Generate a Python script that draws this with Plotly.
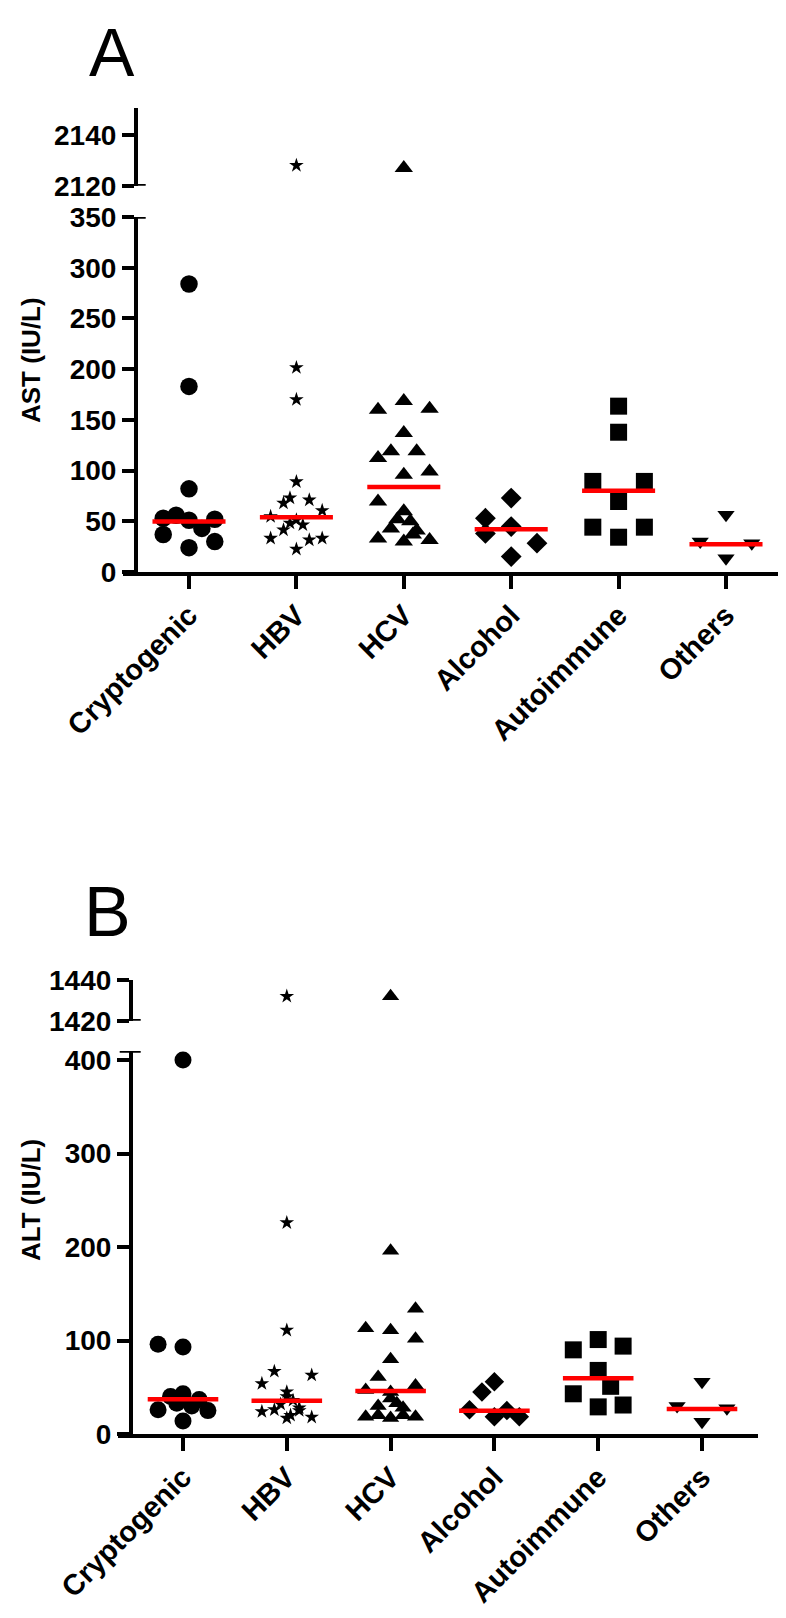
import plotly.graph_objects as go

# page body has an 8px margin; figure is sized/placed so page pixels match the reference
OFF = 8
FW, FH = 776, 1602

categories = ["Cryptogenic", "HBV", "HCV", "Alcohol", "Autoimmune", "Others"]
symbols = ["circle", "star", "triangle-up", "diamond", "square", "triangle-down"]

# ---- Panel A: AST (IU/L) ----
ast_cryptogenic = [284, 183, 82, 53, 56, 51, 43, 52, 37, 24, 30]
ast_cryptogenic_slot = [0, 0, 0, -2, -1, 0, 1, 2, -2, 0, 2]
ast_hbv = [2128, 201.5, 170, 89, 73, 68, 71, 60.6, 54.7, 51.4, 41.5, 48.2, 46.5, 33.3, 31.6, 33.3, 22.5]
ast_hbv_slot = [0, 0, 0, 0, -0.5, -1, 1, 2, -2, 0, -1, -0.5, 0.5, -2, 1, 2, 0]
ast_hcv = [2127, 168.5, 161, 160, 137, 119, 119, 112.5, 99, 96, 69.5, 60, 52, 50, 43, 41, 37, 33, 30, 31.6]
ast_hcv_slot = [0, 0, 2, -2, 0, -1, 1, -2, 2, 0, -2, 0, -0.5, 0.5, -1, 1, 0.7, -2, 0, 2]
ast_alcohol = [72.9, 53, 44.8, 38, 28.4, 15.2]
ast_alcohol_slot = [0, -2, 0, -2, 2, 0]
ast_autoimmune = [163.5, 137.8, 89.3, 89.3, 69.5, 44.2, 44.2, 34.3]
ast_autoimmune_slot = [0, 0, -2, 2, 0, -2, 2, 0]
ast_others = [56.4, 30, 28.4, 13.5]
ast_others_slot = [0, -2, 2, 0]
ast_medians = [49.8, 54, 83.8, 42.2, 80, 27.4]

# ---- Panel B: ALT (IU/L) ----
alt_cryptogenic = [400, 96, 93, 43, 40, 37, 33, 30, 26, 25, 14]
alt_cryptogenic_slot = [0, -2, 0, 0, -1, 1.3, -0.5, 0.7, -2, 2, 0]
alt_hbv = [1432, 226, 111, 67, 63, 54, 45, 40, 36, 32, 28, 26, 25, 24, 20, 18, 17]
alt_hbv_slot = [0, 0, 0, -1, 2, -2, 0, 0, 0.5, -0.5, 1, -1, 1, -2, 0.3, 2, 0]
alt_hcv = [1432, 196, 134, 113, 111, 102, 80, 61, 52, 47, 45, 38, 33, 30, 28, 20, 20, 18.5, 18.5, 17]
alt_hcv_slot = [0, 0, 2, -2, 0, 2, 0, -1, 2, -2, 0, 0, 0.5, -1, 1, -1, 1, -2, 2, 0]
alt_alcohol = [56, 45, 26, 25, 18.5, 18.5]
alt_alcohol_slot = [0, -1, -2, 1, 0, 2]
alt_autoimmune = [101, 94, 90, 68, 51, 43, 31, 29]
alt_autoimmune_slot = [0, 2, -2, 0, 1, -2, 2, 0]
alt_others = [56, 30, 27.5, 13.2]
alt_others_slot = [0, -2, 2, 0]
alt_medians = [37.1, 35.6, 46, 24.9, 59.5, 26.7]

ast_values = [ast_cryptogenic, ast_hbv, ast_hcv, ast_alcohol, ast_autoimmune, ast_others]
ast_slots = [ast_cryptogenic_slot, ast_hbv_slot, ast_hcv_slot, ast_alcohol_slot, ast_autoimmune_slot, ast_others_slot]
alt_values = [alt_cryptogenic, alt_hbv, alt_hcv, alt_alcohol, alt_autoimmune, alt_others]
alt_slots = [alt_cryptogenic_slot, alt_hbv_slot, alt_hcv_slot, alt_alcohol_slot, alt_autoimmune_slot, alt_others_slot]

SLOT = 0.12
HALF = 0.34
sizes_a = [17.5, 11, 16, 16, 17, 15]
sizes_b = [17, 11, 15, 15, 17, 15]

def px(x):
    return (x - OFF) / FW

def py(y):
    return 1 - (y - OFF) / FH

FONT = "Liberation Sans"
LW = 3.5

fig = go.Figure()

def add_panel(values, slots, medians, sizes, xa, ylow, yup, brk):
    for i, (vals, sl) in enumerate(zip(values, slots)):
        lo_x = [i + s * SLOT for v, s in zip(vals, sl) if v < brk]
        lo_y = [v for v in vals if v < brk]
        hi_x = [i + s * SLOT for v, s in zip(vals, sl) if v >= brk]
        hi_y = [v for v in vals if v >= brk]
        for xs, ys, ya in ((lo_x, lo_y, ylow), (hi_x, hi_y, yup)):
            if xs:
                fig.add_trace(go.Scatter(
                    x=xs, y=ys, mode="markers", xaxis=xa, yaxis=ya,
                    marker=dict(symbol=symbols[i], size=sizes[i], color="black",
                                line=dict(width=0)),
                    cliponaxis=False, showlegend=False, hoverinfo="skip"))
    for i, m in enumerate(medians):
        fig.add_trace(go.Scatter(
            x=[i - HALF, i + HALF], y=[m, m], mode="lines", xaxis=xa, yaxis=ylow,
            line=dict(color="#ff0000", width=4.5), cliponaxis=False,
            showlegend=False, hoverinfo="skip"))

add_panel(ast_values, ast_slots, ast_medians, sizes_a, "x", "y", "y2", 1000)
add_panel(alt_values, alt_slots, alt_medians, sizes_b, "x2", "y3", "y4", 1000)

tickfont = dict(family=FONT, size=28, color="black", weight="bold")
xtickfont = dict(family=FONT, size=29, color="black", weight="bold")

common_y = dict(showline=True, linecolor="black", linewidth=LW, ticks="outside",
                ticklen=12, tickwidth=LW, tickcolor="black", showgrid=False,
                zeroline=False, tickfont=tickfont, anchor="free", automargin=False)
common_x = dict(showline=True, linecolor="black", linewidth=LW, ticks="outside",
                ticklen=13, tickwidth=LW, tickcolor="black", showgrid=False,
                zeroline=False, tickfont=xtickfont, tickangle=-45, automargin=False,
                ticklabelstandoff=-2,
                tickmode="array", tickvals=list(range(6)), ticktext=categories)

# Panel A geometry (page pixels)
a_x0, a_x1, a_c0, a_step = 123, 780, 189, 107.4
a_yaxis_x = 135.7
a_up_top, a_up_bot = 108, 185.7
a_up_scale = 2.535

fig.update_layout(
    xaxis=dict(domain=[px(a_x0), px(a_x1)],
               range=[(a_x0 - a_c0) / a_step, (a_x1 - a_c0) / a_step],
               anchor="y", **common_x),
    yaxis=dict(domain=[py(572), py(217)], range=[0, 350],
               position=px(a_yaxis_x), tickvals=[0, 50, 100, 150, 200, 250, 300, 350], **common_y),
    yaxis2=dict(domain=[py(a_up_bot), py(a_up_top)],
                range=[2120, 2120 + (a_up_bot - a_up_top) / a_up_scale],
                position=px(a_yaxis_x), tickvals=[2120, 2140], **common_y),
)

# Panel B geometry (page pixels)
b_x0, b_x1, b_c0, b_step = 118, 758, 183, 103.8
b_yaxis_x = 130.7
b_zero, b_top, b_scale = 1434, 1051, 0.935

fig.update_layout(
    xaxis2=dict(domain=[px(b_x0), px(b_x1)],
                range=[(b_x0 - b_c0) / b_step, (b_x1 - b_c0) / b_step],
                anchor="y3", **common_x),
    yaxis3=dict(domain=[py(b_zero), py(b_top)], range=[0, (b_zero - b_top) / b_scale],
                position=px(b_yaxis_x), tickvals=[0, 100, 200, 300, 400], **common_y),
    yaxis4=dict(domain=[py(1020.7), py(980)], range=[1420, 1440],
                position=px(b_yaxis_x), tickvals=[1420, 1440], **common_y),
)

# break-mark stubs on the right side of the axis ends
shapes = []
def stub(xc, yref, yv):
    shapes.append(dict(type="line", xref="paper", yref=yref, x0=px(xc - 1.5), x1=px(xc + 10),
                       y0=yv, y1=yv, line=dict(color="black", width=LW)))
stub(a_yaxis_x, "y", 350)
stub(a_yaxis_x, "y2", 2120)
stub(b_yaxis_x, "y4", 1420)
stub(b_yaxis_x, "y3", (b_zero - b_top) / b_scale)
shapes.append(dict(type="line", xref="paper", yref="y3", x0=px(b_yaxis_x - 11), x1=px(b_yaxis_x),
                   y0=(b_zero - b_top) / b_scale, y1=(b_zero - b_top) / b_scale,
                   line=dict(color="black", width=LW)))

annotations = [
    dict(text="A", xref="paper", yref="paper", x=px(112), y=py(52), showarrow=False,
         font=dict(family=FONT, size=68, color="black"), xanchor="center", yanchor="middle"),
    dict(text="B", xref="paper", yref="paper", x=px(108), y=py(912), showarrow=False,
         font=dict(family=FONT, size=70, color="black"), xanchor="center", yanchor="middle"),
    dict(text="AST (IU/L)", xref="paper", yref="paper", x=px(31), y=py(360), showarrow=False,
         textangle=-90, font=dict(family=FONT, size=26, color="black", weight="bold"),
         xanchor="center", yanchor="middle"),
    dict(text="ALT (IU/L)", xref="paper", yref="paper", x=px(31), y=py(1200), showarrow=False,
         textangle=-90, font=dict(family=FONT, size=26, color="black", weight="bold"),
         xanchor="center", yanchor="middle"),
]

fig.update_layout(width=FW, height=FH, margin=dict(l=0, r=0, t=0, b=0, autoexpand=False),
                  paper_bgcolor="white", plot_bgcolor="white",
                  shapes=shapes, annotations=annotations, showlegend=False)

fig.write_html("out.html", config={"displayModeBar": False})
